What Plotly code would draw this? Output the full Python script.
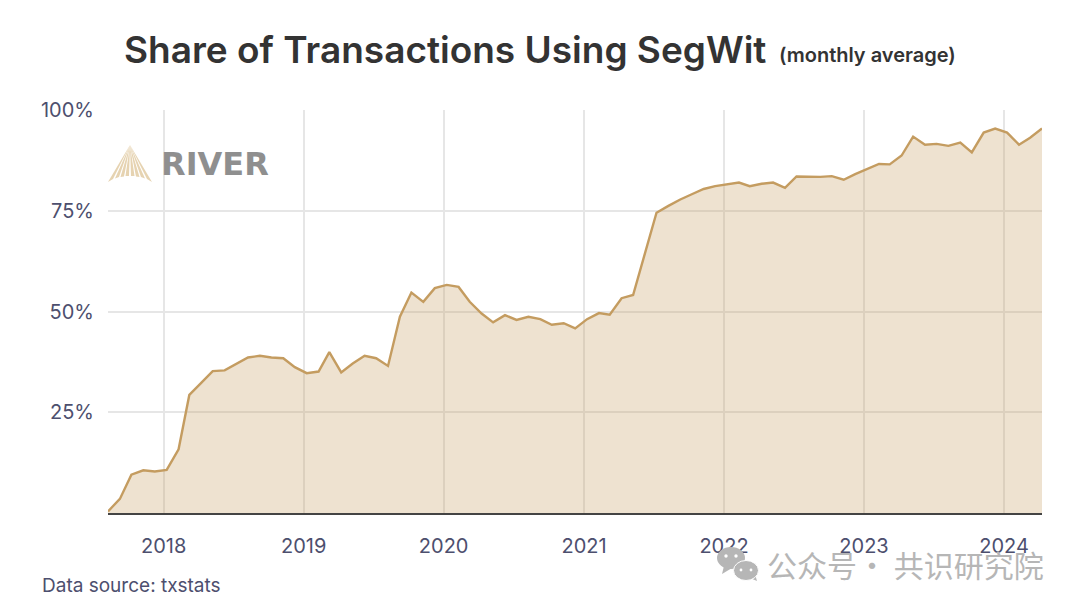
import pandas as pd
import plotly.graph_objects as go

start_date = "2017-08-09"
segwit_share = [
    0.4, 3.5, 9.5, 10.6, 10.3, 10.7, 15.8, 29.3, 32.3, 35.2, 35.4, 36.9, 38.6, 39.0, 38.6, 38.4, 36.2,
    34.7, 35.1, 39.9, 34.9, 37.1, 39.0, 38.4, 36.5, 48.7, 54.7, 52.4, 55.8, 56.6, 56.1, 52.4, 49.5,
    47.3, 49.1, 47.9, 48.7, 48.1, 46.7, 47.1, 45.8, 48.1, 49.6, 49.2, 53.3, 54.1, 64.4, 74.5, 76.2,
    77.8, 79.1, 80.4, 81.1, 81.5, 82.0, 81.1, 81.7, 82.0, 80.7, 83.5, 83.5, 83.4, 83.6, 82.7, 84.1,
    85.4, 86.6, 86.5, 88.7, 93.4, 91.4, 91.6, 91.1, 91.9, 89.5, 94.4, 95.4, 94.4, 91.4, 93.1, 95.4,
]
dates = pd.date_range(start_date, periods=len(segwit_share), freq=pd.DateOffset(months=1))
year_ticks = ["2018-01-01", "2019-01-01", "2020-01-01", "2021-01-01", "2022-01-01", "2023-01-01", "2024-01-01"]
year_labels = ["2018", "2019", "2020", "2021", "2022", "2023", "2024"]
pct_ticks = [25, 50, 75, 100]
pct_labels = ["25%", "50%", "75%", "100%"]

W, H = 1080, 608
L, R, T, B = 108, 1042, 110, 513
FONT = "Inter"
TICK = "#4d4f6e"
WM = "#b6b6b6"


def px(x):
    return (x - L) / (R - L)


def py(y):
    return (B - y) / (B - T)


def poly(points, color):
    d = "M " + " L ".join(f"{px(x):.5f},{py(y):.5f}" for x, y in points) + " Z"
    return dict(type="path", xref="paper", yref="paper", path=d, fillcolor=color, line_width=0, layer="above")


def ellipse(cx, cy, rx, ry, color, outline=None):
    return dict(type="circle", xref="paper", yref="paper", x0=px(cx - rx), x1=px(cx + rx), y0=py(cy + ry), y1=py(cy - ry),
                fillcolor=color, line=dict(color=outline or color, width=1 if outline else 0), layer="above")


fig = go.Figure(go.Scatter(
    x=dates, y=segwit_share, mode="lines",
    line=dict(color="#C49C60", width=2.4),
    fill="tozeroy", fillcolor="rgba(196,154,92,0.29)", hoverinfo="skip",
))

shapes = []
# logo fan blades
for b0, b1 in [((108, 182), (113, 179)), ((115, 178.5), (119, 177)), ((120.5, 177), (124, 176.5)), ((125.5, 176), (129, 176)),
               ((131, 176), (134.5, 176)), ((136, 176.5), (139.5, 177)), ((141, 177), (145, 178.5)), ((147, 179), (152, 182))]:
    shapes.append(poly([(130, 145), b0, b1], "#E6D3B1"))
# watermark icon
shapes += [
    poly([(724, 566), (722, 574), (732, 568)], WM),
    ellipse(731, 558, 14, 11, WM),
    ellipse(726, 556, 1.7, 1.7, "white"),
    ellipse(736, 556, 1.7, 1.7, "white"),
    poly([(750, 578), (757, 581), (755, 574)], WM),
    ellipse(746, 570.5, 12.5, 10, WM, "white"),
    ellipse(741, 570, 1.4, 1.4, "white"),
    ellipse(751, 570, 1.4, 1.4, "white"),
]

annotations = [
    dict(text="Share of Transactions Using SegWit", x=px(122), y=py(49), font=dict(size=37, color="#333333", family=FONT, weight=600)),
    dict(text="(monthly average)", x=px(776.5), y=py(55), font=dict(size=20, color="#333333", family=FONT, weight=600)),
    dict(text="RIVER", x=px(159), y=py(163.5), font=dict(size=32, color="#8f8f8f", family="DejaVu Sans", weight=700)),
    dict(text="Data source: txstats", x=px(40), y=py(585), font=dict(size=19, color=TICK, family=FONT)),
    dict(text="公众号· 共识研究院", x=px(765), y=py(564), font=dict(size=30, color=WM, family="Noto Sans CJK SC")),
]
for a in annotations:
    a.update(xref="paper", yref="paper", xanchor="left", yanchor="middle", showarrow=False)

fig.update_layout(
    width=W, height=H, autosize=False,
    margin=dict(l=L, r=W - R, t=T, b=H - B, pad=0),
    paper_bgcolor="white", plot_bgcolor="white", showlegend=False,
    shapes=shapes, annotations=annotations,
    font=dict(family=FONT, color=TICK, size=20),
    xaxis=dict(
        type="date", range=[dates[0], dates[-1]],
        tickvals=year_ticks, ticktext=year_labels, ticks="", ticklabelstandoff=14,
        showgrid=True, gridcolor="#e6e6e6", gridwidth=1.6, zeroline=False,
        showline=True, linecolor="#444444", linewidth=1.8,
        tickfont=dict(size=20, color=TICK, family=FONT), layer="below traces",
    ),
    yaxis=dict(
        range=[0, 100], tickvals=pct_ticks, ticktext=pct_labels, ticks="", ticklabelstandoff=13,
        showgrid=True, gridcolor="#e6e6e6", gridwidth=1.6, zeroline=False, showline=False,
        tickfont=dict(size=20, color=TICK, family=FONT), layer="below traces",
    ),
)

fig.write_html("out.html", config=dict(displayModeBar=False),
               post_script="document.body.style.margin='0';document.documentElement.style.overflow='hidden';")
